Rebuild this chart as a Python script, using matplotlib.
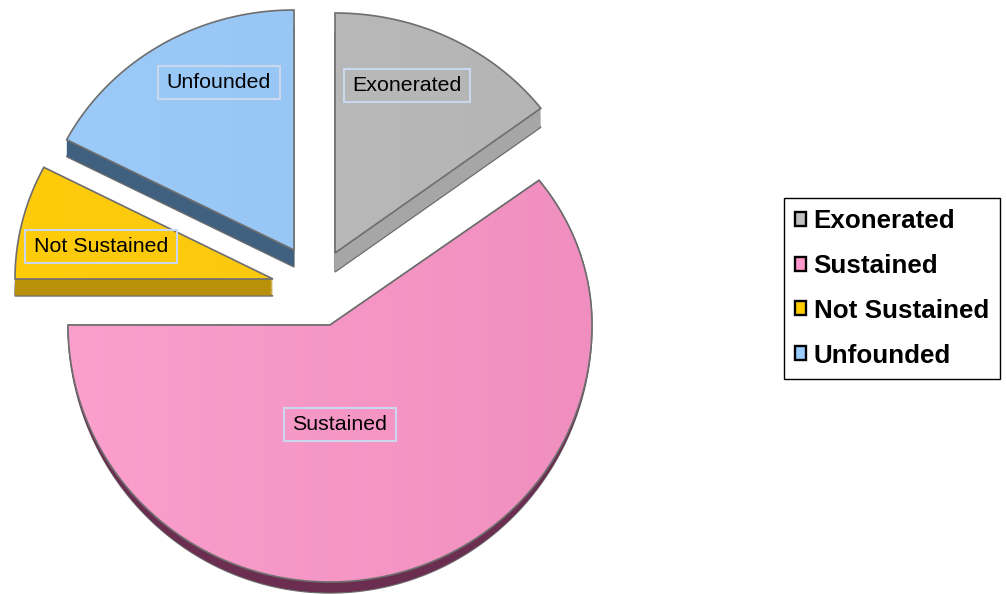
import numpy as np
import matplotlib
matplotlib.use('Agg')
import matplotlib.pyplot as plt
from matplotlib.colors import LinearSegmentedColormap
from matplotlib.patches import Patch, Polygon, Rectangle

# values, in percent, clockwise from 12 o'clock
categories = ['Exonerated', 'Sustained', 'Not Sustained', 'Unfounded']
values = [14.7, 60.3, 7.6, 17.4]

# colours: left of gradient, right of gradient, side wall, legend swatch
light_colors = ['#BCBCBC', '#FB9FCD', '#FFCC0A', '#9CCBFA']
dark_colors = ['#B4B4B4', '#F08FBF', '#F5C514', '#94C1F0']
side_colors = ['#A6A6A6', '#6B2D50', '#B8900A', '#40607F']
swatch_colors = ['#C0C0C0', '#FF99CC', '#FFCC00', '#99CCFF']

# layout in pixels: apex of each slice, radii, side wall size
apex_x = [335, 330, 273, 294]
apex_y = [253, 325, 279, 250]
radius_x = [258, 262, 258, 256]
radius_up = [240, 240, 243, 240]
radius_down = [240, 257, 243, 240]
wall_shift = [19, 0, 17, 17]
wall_grow = [0, 11, 0, 0]
label_x = [407, 340, 101, 219]
label_y = [85, 424, 246, 82]

plt.rcParams['font.family'] = ['Liberation Sans', 'DejaVu Sans']

fig = plt.figure(figsize=(10.06, 5.94), dpi=100)
ax = fig.add_axes([0, 0, 1, 1])
ax.set_xlim(0, 1006)
ax.set_ylim(594, 0)
ax.axis('off')

# slice angles, clockwise from the top
shares = np.array(values) / sum(values) * 360
ends = 90 - np.cumsum(shares)
starts = ends + shares


def slice_patch(i, amount=0.0, **kwargs):
    # the pie is drawn in perspective, so the lower half has a longer radius
    theta = np.radians(np.linspace(starts[i], ends[i], 300))
    up = np.sin(theta) > 0
    ry = np.where(up, radius_up[i], radius_down[i] + wall_grow[i] * amount)
    x = apex_x[i] + radius_x[i] * np.cos(theta)
    y = apex_y[i] + wall_shift[i] * amount - ry * np.sin(theta)
    points = np.column_stack([np.r_[apex_x[i], x], np.r_[apex_y[i] + wall_shift[i] * amount, y]])
    return Polygon(points, closed=True, **kwargs)


edge = '#6E6E6E'
gradient = np.linspace(0, 1, 256).reshape(1, -1)
for i in range(len(values)):
    # side wall, stacked from the bottom up
    ax.add_patch(slice_patch(i, 1.0, facecolor=side_colors[i], edgecolor=edge, linewidth=1))
    for amount in np.linspace(0.95, 0.05, 19):
        ax.add_patch(slice_patch(i, amount, facecolor=side_colors[i], edgecolor='none'))

    # top face with a soft left to right gradient
    outline = slice_patch(i, facecolor='none', edgecolor=edge, linewidth=1.2, zorder=3)
    ax.add_patch(outline)
    cmap = LinearSegmentedColormap.from_list('face', [light_colors[i], dark_colors[i]])
    left = apex_x[i] - radius_x[i]
    right = apex_x[i] + radius_x[i]
    top = apex_y[i] - radius_up[i]
    bottom = apex_y[i] + radius_down[i]
    im = ax.imshow(gradient, cmap=cmap, extent=(left, right, bottom, top), aspect='auto', zorder=2)
    im.set_clip_path(outline)

ax.set_xlim(0, 1006)
ax.set_ylim(594, 0)

renderer = fig.canvas.get_renderer()
for name, x, y in zip(categories, label_x, label_y):
    t = ax.text(x, y + 0.5, name, fontsize=15.4, color='black', ha='center', va='center', zorder=5)
    width = t.get_window_extent(renderer).width + 17
    ax.add_patch(Rectangle((x - width / 2, y - 16.5), width, 33, facecolor='none',
                           edgecolor='#C9D8EE', linewidth=1.5, zorder=4))

handles = [Patch(facecolor=c, edgecolor='black', linewidth=1.7) for c in swatch_colors]
legend = ax.legend(handles, categories, loc='upper left', bbox_to_anchor=(783.5 / 1006, 1 - 198 / 594),
                   bbox_transform=fig.transFigure, borderaxespad=0, fancybox=False, framealpha=1,
                   edgecolor='black', prop={'weight': 'bold', 'size': 18.7}, handlelength=0.45,
                   handleheight=0.45, handletextpad=0.28, labelspacing=0.8, borderpad=0.43)
legend.get_frame().set_linewidth(1)

fig.savefig('out.png', dpi=100)
